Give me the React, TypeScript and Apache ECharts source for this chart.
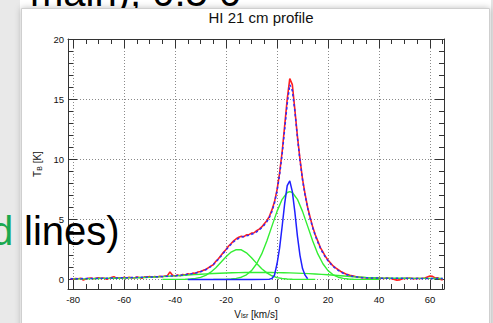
import React, { useEffect, useRef } from "react";
import * as echarts from "echarts";

// Velocity channels (km/s)
const vel = [
  -81, -80, -79, -78, -77, -76, -75, -74, -73, -72,
  -71, -70, -69, -68, -67, -66, -65, -64, -63, -62,
  -61, -60, -59, -58, -57, -56, -55, -54, -53, -52,
  -51, -50, -49, -48, -47, -46, -45, -44, -43, -42,
  -41, -40, -39, -38, -37, -36, -35, -34, -33, -32,
  -31, -30, -29, -28, -27, -26, -25, -24, -23, -22,
  -21, -20, -19, -18, -17, -16, -15, -14, -13, -12,
  -11, -10, -9, -8, -7, -6, -5, -4, -3, -2,
  -1, 0, 1, 2, 3, 4, 5, 6, 7, 8,
  9, 10, 11, 12, 13, 14, 15, 16, 17, 18,
  19, 20, 21, 22, 23, 24, 25, 26, 27, 28,
  29, 30, 31, 32, 33, 34, 35, 36, 37, 38,
  39, 40, 41, 42, 43, 44, 45, 46, 47, 48,
  49, 50, 51, 52, 53, 54, 55, 56, 57, 58,
  59, 60, 61, 62, 63, 64, 65,
];

// Observed brightness temperature (red)
const observedTb = [
  0.08, 0.02, 0.07, 0.05, 0.10, -0.05, 0.03, 0.09, 0.12, 0.06,
  0.10, 0.13, 0.07, 0.12, 0.02, 0.08, 0.15, 0.22, 0.10, 0.14,
  0.10, 0.17, 0.12, 0.18, 0.13, 0.12, 0.20, 0.15, 0.09, 0.21,
  0.17, 0.24, 0.18, 0.23, 0.20, 0.26, 0.22, 0.28, 0.30, 0.62,
  0.35, 0.28, 0.36, 0.31, 0.40, 0.37, 0.46, 0.43, 0.52, 0.50,
  0.62, 0.66, 0.75, 0.82, 0.96, 1.10, 1.22, 1.50, 1.72, 1.98,
  2.25, 2.48, 2.78, 2.98, 3.20, 3.38, 3.50, 3.58, 3.55, 3.70,
  3.72, 3.85, 3.88, 4.05, 4.18, 4.36, 4.62, 4.88, 5.25, 5.78,
  6.45, 7.45, 8.85, 10.6, 12.8, 15.0, 16.7, 16.2, 14.1, 11.9,
  10.0, 8.35, 7.1, 6.0, 5.15, 4.35, 3.72, 3.18, 2.65, 2.28,
  1.90, 1.60, 1.36, 1.12, 0.95, 0.80, 0.66, 0.55, 0.45, 0.38,
  0.31, 0.27, 0.22, 0.20, 0.15, 0.16, 0.11, 0.14, 0.10, 0.13,
  0.09, 0.12, 0.10, 0.08, 0.12, 0.09, 0.05, 0.00, -0.06, -0.04,
  0.03, 0.10, 0.07, 0.11, 0.08, 0.06, 0.10, 0.07, 0.09, 0.12,
  0.20, 0.28, 0.25, 0.12, 0.14, 0.02, -0.05,
];

// Total Gaussian fit (blue dashed)
const fitTb = [
  0.05, 0.05, 0.06, 0.06, 0.06, 0.07, 0.07, 0.07, 0.08, 0.08,
  0.08, 0.09, 0.09, 0.10, 0.10, 0.10, 0.11, 0.11, 0.12, 0.12,
  0.13, 0.13, 0.14, 0.14, 0.15, 0.15, 0.16, 0.17, 0.17, 0.18,
  0.19, 0.20, 0.20, 0.21, 0.22, 0.23, 0.24, 0.25, 0.26, 0.27,
  0.29, 0.30, 0.32, 0.34, 0.36, 0.39, 0.42, 0.45, 0.49, 0.53,
  0.58, 0.64, 0.71, 0.80, 0.92, 1.06, 1.24, 1.45, 1.68, 1.93,
  2.19, 2.45, 2.70, 2.93, 3.13, 3.30, 3.42, 3.51, 3.57, 3.62,
  3.68, 3.75, 3.84, 3.96, 4.11, 4.30, 4.53, 4.80, 5.15, 5.65,
  6.35, 7.35, 8.70, 10.4, 12.5, 14.6, 16.2, 15.7, 14.0, 11.8,
  9.9, 8.3, 7.0, 5.95, 5.05, 4.30, 3.65, 3.10, 2.60, 2.20,
  1.85, 1.55, 1.30, 1.08, 0.90, 0.75, 0.62, 0.51, 0.42, 0.35,
  0.29, 0.24, 0.21, 0.18, 0.16, 0.14, 0.13, 0.12, 0.12, 0.11,
  0.11, 0.11, 0.10, 0.10, 0.10, 0.10, 0.10, 0.09, 0.09, 0.09,
  0.09, 0.09, 0.09, 0.08, 0.08, 0.08, 0.08, 0.08, 0.08, 0.08,
  0.08, 0.07, 0.07, 0.07, 0.07, 0.07, 0.07,
];

// Narrow (cold) component (blue solid)
const narrowVel = [-35, -10, -3, -2, -1, 0, 1, 2, 3, 4, 5, 6, 7, 8, 9, 10, 11, 12];
const narrowTb = [0, 0, 0.02, 0.08, 0.35, 1.3, 2.6, 4.4, 6.3, 7.8, 8.2, 7.3, 5.6, 3.6, 2.0, 0.9, 0.35, 0.05];

// Component near -15 km/s (green)
const shoulderVel = [-45, -40, -36, -34, -32, -30, -28, -26, -24, -22, -20, -18, -16, -14, -12, -10, -8, -6, -4, -2, 0, 2, 4, 6, 10, 15];
const shoulderTb = [0, 0, 0.01, 0.03, 0.08, 0.17, 0.34, 0.6, 0.97, 1.42, 1.89, 2.27, 2.48, 2.46, 2.21, 1.8, 1.33, 0.89, 0.54, 0.3, 0.15, 0.07, 0.03, 0.01, 0, 0];

// Main warm component (green)
const mainVel = [-25, -20, -18, -16, -14, -12, -10, -8, -6, -4, -2, 0, 2, 4, 5, 6, 8, 10, 12, 14, 16, 18, 20, 22, 24, 26, 28, 30, 35, 40];
const mainTb = [0, 0.01, 0.03, 0.08, 0.18, 0.38, 0.73, 1.3, 2.12, 3.19, 4.43, 5.66, 6.66, 7.23, 7.3, 7.23, 6.66, 5.66, 4.43, 3.19, 2.12, 1.3, 0.73, 0.38, 0.18, 0.08, 0.03, 0.01, 0, 0];

// Very broad low component (green)
const broadVel = [-80, -75, -70, -65, -60, -55, -50, -45, -40, -35, -30, -25, -20, -15, -10, -5, 0, 5, 10, 15, 20, 25, 30, 35, 40, 45, 50, 55, 60, 65];
const broadTb = [0.04, 0.05, 0.07, 0.09, 0.11, 0.14, 0.18, 0.23, 0.29, 0.36, 0.43, 0.49, 0.53, 0.56, 0.57, 0.57, 0.56, 0.54, 0.5, 0.45, 0.38, 0.3, 0.22, 0.16, 0.12, 0.1, 0.09, 0.08, 0.08, 0.07];

// Ticks
const xMajorTicks = [-80, -60, -40, -20, 0, 20, 40, 60];
const xMinorTicks = [-80, -75, -70, -65, -60, -55, -50, -45, -40, -35, -30, -25, -20, -15, -10, -5, 0, 5, 10, 15, 20, 25, 30, 35, 40, 45, 50, 55, 60, 65];
const yMajorTicks = [0, 5, 10, 15, 20];
const yMinorTicks = [0, 1, 2, 3, 4, 5, 6, 7, 8, 9, 10, 11, 12, 13, 14, 15, 16, 17, 18, 19, 20];

const FONT = "'Liberation Sans', Arial, Helvetica, sans-serif";
const AXIS_COLOR = "#333";

const pairs = (xs: number[], ys: number[]) => xs.map((x, i) => [x, ys[i]]);

export default function App() {
  const ref = useRef<HTMLDivElement>(null);

  useEffect(() => {
    if (!ref.current) return;
    const chart = echarts.init(ref.current, undefined, { renderer: "svg" });

    const xBase = { type: "value", min: -82, max: 65.5, gridIndex: 0 };
    const yBase = { type: "value", min: -0.8, max: 20, gridIndex: 0 };
    const tickLine = { color: AXIS_COLOR, width: 1 };
    const nameRich = {
      t: { fontSize: 10, fontFamily: FONT, color: "#111", lineHeight: 14, verticalAlign: "bottom" },
      s: { fontSize: 7, fontFamily: FONT, color: "#111", lineHeight: 7, verticalAlign: "bottom" },
    };

    const option: any = {
      animation: false,
      backgroundColor: "#ffffff",
      title: {
        text: "HI 21 cm profile",
        left: 256,
        top: 5,
        textAlign: "center",
        textStyle: { fontSize: 15, fontWeight: "normal", fontFamily: FONT, color: "#111" },
      },
      grid: { left: 68, top: 39, width: 376, height: 250, containLabel: false, outerBoundsMode: "none" },
      xAxis: [
        {
          ...xBase,
          position: "bottom",
          name: "{t|V}{s|lsr}{t| [km/s]}",
          nameLocation: "middle",
          nameGap: 16,
          nameTextStyle: { rich: nameRich },
          axisLine: { show: true, onZero: false, lineStyle: tickLine },
          axisTick: { show: true, inside: true, length: 9, customValues: xMajorTicks, lineStyle: tickLine },
          axisLabel: { show: true, customValues: xMajorTicks, fontSize: 9.5, fontFamily: FONT, color: "#111", margin: 5 },
          splitLine: { show: true, lineStyle: { color: "#8a8a8a", width: 1, type: [1, 2] } },
        },
        {
          ...xBase,
          position: "bottom",
          axisLine: { show: false, onZero: false },
          axisTick: { show: true, inside: true, length: 5, customValues: xMinorTicks, lineStyle: tickLine },
          axisLabel: { show: false },
          splitLine: { show: false },
        },
        {
          ...xBase,
          position: "top",
          axisLine: { show: true, onZero: false, lineStyle: tickLine },
          axisTick: { show: true, inside: true, length: 9, customValues: xMajorTicks, lineStyle: tickLine },
          axisLabel: { show: false },
          splitLine: { show: false },
        },
        {
          ...xBase,
          position: "top",
          axisLine: { show: false, onZero: false },
          axisTick: { show: true, inside: true, length: 5, customValues: xMinorTicks, lineStyle: tickLine },
          axisLabel: { show: false },
          splitLine: { show: false },
        },
      ],
      yAxis: [
        {
          ...yBase,
          position: "left",
          name: "{t|T}{s|B}{t| [K]}",
          nameLocation: "middle",
          nameGap: 24,
          nameTextStyle: { rich: nameRich },
          axisLine: { show: true, onZero: false, lineStyle: tickLine },
          axisTick: { show: true, inside: true, length: 9, customValues: yMajorTicks, lineStyle: tickLine },
          axisLabel: { show: true, customValues: yMajorTicks, fontSize: 9.5, fontFamily: FONT, color: "#111", margin: 4 },
          splitLine: { show: true, lineStyle: { color: "#8a8a8a", width: 1, type: [1, 2] } },
        },
        {
          ...yBase,
          position: "left",
          axisLine: { show: false, onZero: false },
          axisTick: { show: true, inside: true, length: 5, customValues: yMinorTicks, lineStyle: tickLine },
          axisLabel: { show: false },
          splitLine: { show: false },
        },
        {
          ...yBase,
          position: "right",
          axisLine: { show: true, onZero: false, lineStyle: tickLine },
          axisTick: { show: true, inside: true, length: 9, customValues: yMajorTicks, lineStyle: tickLine },
          axisLabel: { show: false },
          splitLine: { show: false },
        },
        {
          ...yBase,
          position: "right",
          axisLine: { show: false, onZero: false },
          axisTick: { show: true, inside: true, length: 5, customValues: yMinorTicks, lineStyle: tickLine },
          axisLabel: { show: false },
          splitLine: { show: false },
        },
      ],
      series: [
        {
          name: "Observed",
          type: "line",
          data: pairs(vel, observedTb),
          symbol: "none",
          lineStyle: { color: "#ff2020", width: 1.6 },
          z: 2,
          silent: true,
        },
        {
          name: "Broad component",
          type: "line",
          data: pairs(broadVel, broadTb),
          symbol: "none",
          smooth: 0.3,
          lineStyle: { color: "#33ee33", width: 1.4 },
          z: 3,
          silent: true,
        },
        {
          name: "Shoulder component",
          type: "line",
          data: pairs(shoulderVel, shoulderTb),
          symbol: "none",
          lineStyle: { color: "#33ee33", width: 1.4 },
          z: 3,
          silent: true,
        },
        {
          name: "Main component",
          type: "line",
          data: pairs(mainVel, mainTb),
          symbol: "none",
          lineStyle: { color: "#33ee33", width: 1.4 },
          z: 3,
          silent: true,
        },
        {
          name: "Narrow component",
          type: "line",
          data: pairs(narrowVel, narrowTb),
          symbol: "none",
          lineStyle: { color: "#2020ff", width: 1.5 },
          z: 4,
          silent: true,
        },
        {
          name: "Fit",
          type: "line",
          data: pairs(vel, fitTb),
          symbol: "none",
          lineStyle: { color: "#2a2aff", width: 1.5, type: [2.5, 2.5] },
          z: 5,
          silent: true,
        },
      ],
      graphic: [
        {
          type: "rect",
          z: -25,
          shape: { x: 0, y: 0, width: 20, height: 323 },
          style: { fill: "#e9e9e9" },
        },
        {
          type: "rect",
          z: -20,
          shape: { x: 21.5, y: 8.5, width: 468, height: 340 },
          style: { fill: "#ffffff", stroke: "#cfcfcf", lineWidth: 1, shadowBlur: 6, shadowColor: "rgba(0,0,0,0.25)" },
        },
        {
          type: "rect",
          z: -25,
          shape: { x: 491, y: 0, width: 2, height: 323 },
          style: { fill: "#e4e4e4" },
        },
        {
          type: "text",
          z: 100,
          x: -9,
          y: 211,
          style: {
            text: "d",
            font: "40px " + FONT,
            fill: "#1aa84f",
            textVerticalAlign: "top",
          },
        },
        {
          type: "text",
          z: 100,
          x: 24,
          y: 211,
          style: {
            text: "lines)",
            font: "40px " + FONT,
            fill: "#000",
            textVerticalAlign: "top",
          },
        },
      ],
    };

    chart.setOption(option);
    return () => chart.dispose();
  }, []);

  return (
    <div style={{ position: "absolute", left: 0, top: 0, width: 493, height: 323, overflow: "hidden" }}>
      <div
        ref={ref}
        style={{ position: "absolute", left: 0, top: 0, width: 493, height: 323 }}
      />
      <div
        style={{
          position: "absolute",
          left: 22,
          top: 0,
          width: 467,
          height: 8,
          overflow: "hidden",
          pointerEvents: "none",
        }}
      >
        <div
          style={{
            position: "absolute",
            left: 8,
            top: -28,
            whiteSpace: "nowrap",
            fontFamily: FONT,
            fontSize: 40,
            lineHeight: "40px",
            color: "#000",
          }}
        >
          main), 0.5 0
        </div>
      </div>
    </div>
  );
}
